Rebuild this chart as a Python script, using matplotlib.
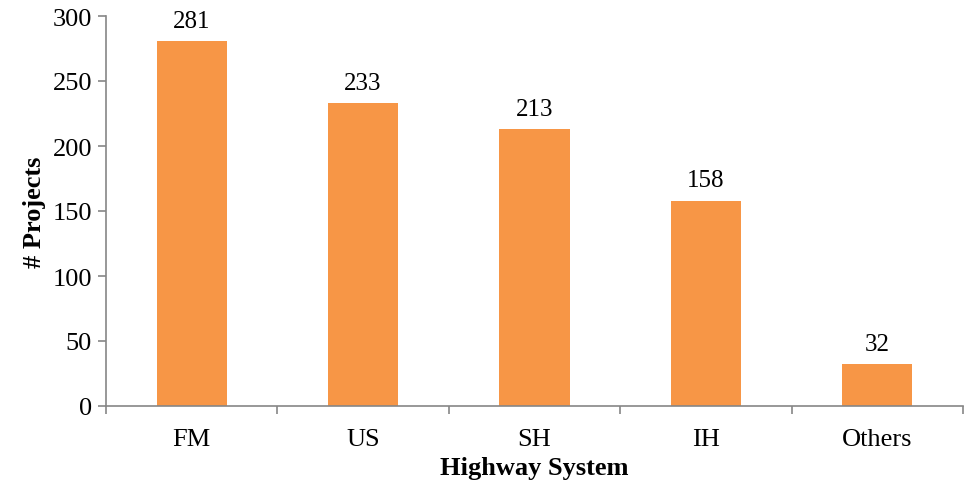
import matplotlib
matplotlib.use('Agg')
import matplotlib.pyplot as plt
import numpy as np

# Datos del gráfico
categories = ['FM', 'US', 'SH', 'IH', 'Others']
projects = [281, 233, 213, 158, 32]

plt.rcParams['font.family'] = ['Liberation Serif', 'DejaVu Serif']

fig = plt.figure(figsize=(9.64, 4.81), dpi=100)
ax = fig.add_axes([106 / 964, (481 - 407) / 481, (963 - 106) / 964, (407 - 17) / 481])

x = np.arange(len(categories))
bars = ax.bar(x, projects, width=0.41, color='#F79646')

for b, v in zip(bars, projects):
    ax.text(b.get_x() + b.get_width() / 2, v + 7, str(v), ha='center', va='bottom', fontsize=18)

ax.set_xlim(-0.5, len(categories) - 0.5)
ax.set_ylim(0, 300)
ax.set_yticks(range(0, 301, 50))
ax.set_xticks(x)
ax.set_xticklabels(categories)
ax.set_xticks(np.arange(-0.5, len(categories), 1), minor=True)
ax.tick_params(axis='x', which='major', length=0, pad=16, labelsize=19)
ax.tick_params(axis='x', which='minor', length=6, color='#868686', width=1.2)
ax.tick_params(axis='y', length=6, color='#868686', width=1.2, labelsize=19, pad=4)

for s in ['top', 'right']:
    ax.spines[s].set_visible(False)
for s in ['left', 'bottom']:
    ax.spines[s].set_color('#868686')
    ax.spines[s].set_linewidth(1.2)

ax.set_xlabel('Highway System', fontsize=19, fontweight='bold', labelpad=4)
ax.set_ylabel('# Projects', fontsize=19, fontweight='bold', labelpad=5)

fig.savefig('out.png', dpi=100)
